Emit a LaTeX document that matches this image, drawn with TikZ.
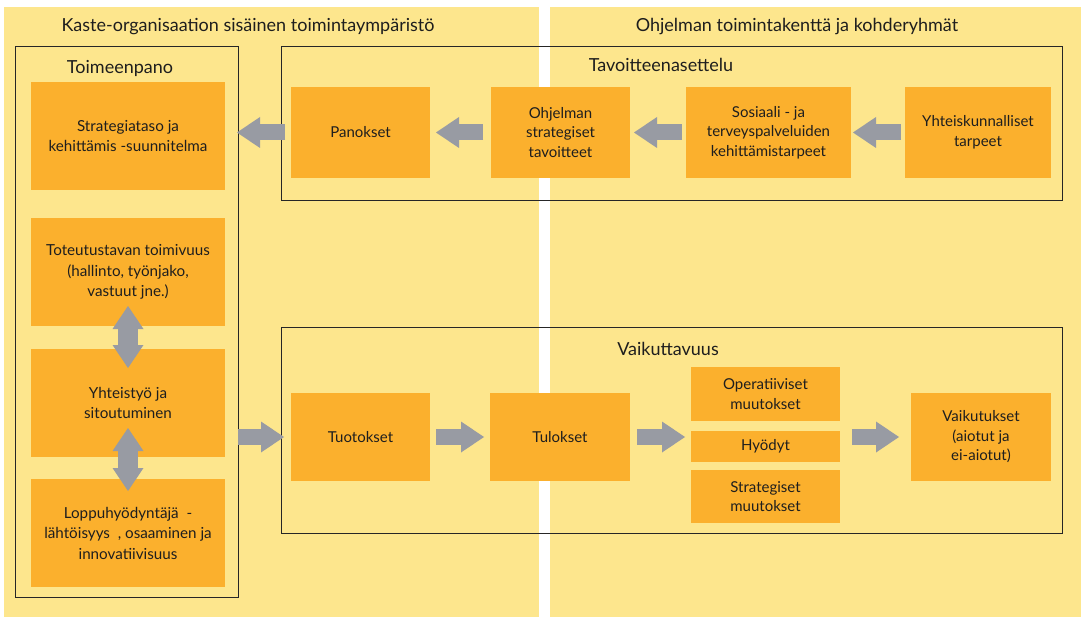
\documentclass[tikz,border=0pt]{standalone}
\usepackage{fontspec}
\setmainfont{Lato}
\usetikzlibrary{positioning, arrows.meta}

\definecolor{paneyellow}{RGB}{253,230,141}
\definecolor{boxorange}{RGB}{251,176,45}
\definecolor{arrowgray}{RGB}{152,155,163}
\definecolor{inkgray}{RGB}{30,30,30}

\begin{document}
\begin{tikzpicture}[
				x=1pt, y=-1pt,
				% Define Node Styles
				stage/.style={fill=boxorange, align=center, inner sep=2pt, outer sep=0pt, text=inkgray, font=\fontsize{15}{19.5}\selectfont},
				impl/.style={stage, minimum width=194pt, minimum height=108pt, font=\fontsize{15.2}{20.5}\selectfont},
				zone/.style={draw=black!85, line width=0.8pt, inner sep=0pt, outer sep=0pt},
				heading/.style={anchor=base, text=inkgray, font=\fontsize{18}{21}\selectfont},
				% Define Arrow Styles
				flow/.style={-{Triangle[length=23pt, width=31pt, line width=0pt]}, line width=16pt, arrowgray},
				twoway/.style={{Triangle[length=23pt, width=31pt, line width=0pt]}-{Triangle[length=23pt, width=31pt, line width=0pt]}, line width=20pt, arrowgray}
				]
				% Background panels
				\useasboundingbox (0,0) rectangle (1083,617);
				\fill[paneyellow] (4,7) rectangle (539,617);
				\fill[paneyellow] (550,7) rectangle (1081,617);
				\node[heading] (KO) at (248,32) {Kaste-organisaation sisäinen toimintaympäristö};
				\node[heading] (OT) at (797,32) {Ohjelman toimintakenttä ja kohderyhmät};
				
				% Frames
				\node[zone, minimum width=223pt, minimum height=551pt] (TP) at (126.5,321.5) {};
				\node[zone, minimum width=781pt, minimum height=154pt] (TA) at (671.5,123) {};
				\node[zone, minimum width=781pt, minimum height=206pt] (VK) at (671.5,430) {};
				\node[heading] (TPh) at (120,74) {Toimeenpano};
				\node[heading] (TAh) at (661,72) {Tavoitteenasettelu};
				\node[heading] (VKh) at (668,355) {Vaikuttavuus};
				
				% Nodes: implementation
				\node[impl] (STR) at (128,136) {Strategiataso ja\\kehittämis -suunnitelma};
				\node[impl, below=28pt of STR] (TOT) {Toteutustavan toimivuus\\(hallinto, työnjako,\\vastuut jne.)};
				\node[impl, below=23pt of TOT] (YHT) {Yhteistyö ja\\sitoutuminen};
				\node[impl, below=22pt of YHT] (LOP) {Loppuhyödyntäjä\ \ -\\lähtöisyys\ \ , osaaminen ja\\innovatiivisuus};
				
				% Nodes: goal setting
				\node[stage, minimum width=139pt, minimum height=91pt] (PAN) at (360.5,132.5) {Panokset};
				\node[stage, minimum width=139pt, minimum height=91pt, right=61pt of PAN] (OST) {Ohjelman\\strategiset\\tavoitteet};
				\node[stage, minimum width=165pt, minimum height=91pt, right=56pt of OST] (SOS) {Sosiaali - ja\\terveyspalveluiden\\kehittämistarpeet};
				\node[stage, minimum width=146pt, minimum height=91pt, right=54pt of SOS] (YTA) {Yhteiskunnalliset\\tarpeet};
				
				% Nodes: effectiveness
				\node[stage, minimum width=139pt, minimum height=88pt] (TUO) at (360.5,437) {Tuotokset};
				\node[stage, minimum width=140pt, minimum height=88pt, right=60pt of TUO] (TUL) {Tulokset};
				\node[stage, minimum width=149pt, minimum height=31pt] (HYO) at (765.5,446.5) {Hyödyt};
				\node[stage, minimum width=149pt, minimum height=54pt, above=10pt of HYO] (OPM) {Operatiiviset\\muutokset};
				\node[stage, minimum width=149pt, minimum height=53pt, below=8pt of HYO] (STM) {Strategiset\\muutokset};
				\node[stage, minimum width=140pt, minimum height=88pt] (VAI) at (981,437) {Vaikutukset\\(aiotut ja\\ei-aiotut)};
				
				% Goal-setting flow (right to left)
				\draw[flow, shorten <=6pt, shorten >=12pt] (PAN.west) -- (PAN.west -| STR.east);
				\draw[flow, shorten <=8pt, shorten >=6pt] (OST.west) -- (PAN.east);
				\draw[flow, shorten <=4pt, shorten >=4pt] (SOS.west) -- (OST.east);
				\draw[flow, shorten <=4pt, shorten >=2pt] (YTA.west) -- (SOS.east);
				
				% Implementation links
				\draw[twoway] ([yshift=20pt]TOT.south) -- ([yshift=-19pt]YHT.north);
				\draw[twoway] ([yshift=29pt]YHT.south) -- ([yshift=-12pt]LOP.north);
				
				% Effectiveness flow (left to right)
				\draw[flow, shorten >=7pt] (TP.east |- TUO) -- (TUO.west);
				\draw[flow, shorten <=6pt, shorten >=6pt] (TUO.east) -- (TUL.west);
				\draw[flow, shorten <=7pt, shorten >=6pt] (TUL.east) -- (TUL.east -| HYO.west);
				\draw[flow, shorten <=12pt, shorten >=12pt] (VAI.west -| HYO.east) -- (VAI.west);
				
			\end{tikzpicture}
\end{document}
